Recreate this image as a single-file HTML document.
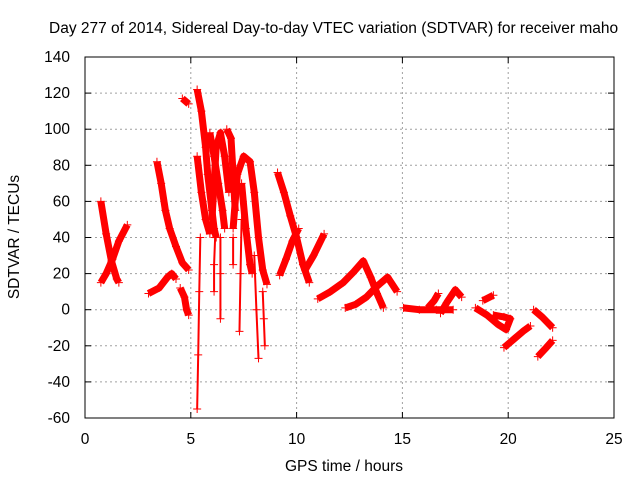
<!DOCTYPE html>
<html><head><meta charset="utf-8">
<style>
body{margin:0;background:#fff;}
svg{display:block;font-family:"Liberation Sans",sans-serif;}
</style></head>
<body>
<svg id="chart" width="640" height="480" xmlns="http://www.w3.org/2000/svg">
<rect width="640" height="480" fill="#fff"/>
<text x="49" y="33" font-size="15.5">Day 277 of 2014, Sidereal Day-to-day VTEC variation (SDTVAR) for receiver maho</text>
<text transform="translate(19,237) rotate(-90)" text-anchor="middle" font-size="15.5">SDTVAR / TECUs</text>
<text x="344" y="471" text-anchor="middle" font-size="15.5">GPS time / hours</text>
<g id="grid"></g>
<g id="marks"></g>
<g id="axes"></g>
</svg>
<script>
const xTicks = [0,5,10,15,20,25];
const yTicks = [140,120,100,80,60,40,20,0,-20,-40,-60];
const track1a = [[0.75,60],[1.0,42],[1.25,27],[1.5,17],[1.6,15]];
const track1b = [[0.75,15],[1.0,20],[1.3,28],[1.6,38],[2.0,47]];
const track2 = [[3.4,82],[3.6,70],[3.8,55],[4.0,45],[4.3,35],[4.6,26],[4.9,22]];
const track3 = [[3.0,9],[3.5,12],[3.9,18],[4.1,20],[4.3,17]];
const track4 = [[4.5,12],[4.7,7],[4.8,0],[4.9,-3]];
const track5 = [[4.6,117],[4.9,114]];
const track6a = [[5.3,122],[5.5,110],[5.7,90],[5.8,75],[6.0,55],[6.1,45],[6.2,40]];
const track6b = [[5.3,85],[5.5,65],[5.7,50],[5.9,42]];
const track6c = [[5.9,98],[6.1,85],[6.3,70],[6.5,55],[6.6,45]];
const track6d = [[6.0,50],[6.1,70],[6.2,90],[6.4,98],[6.6,85],[6.8,65]];
const track6e = [[6.7,100],[6.9,95],[7.0,75],[7.1,55]];
const track6f = [[7.0,45],[7.2,75],[7.5,85],[7.8,82],[8.0,65],[8.2,40],[8.4,22],[8.6,14]];
const track6g = [[7.4,70],[7.6,45],[7.8,25],[7.9,20]];
const track7a = [[9.1,76],[9.4,65],[9.7,52],[10.0,40],[10.3,25],[10.6,15]];
const track7b = [[9.2,19],[9.5,28],[9.8,38],[10.1,45]];
const track8 = [[10.4,22],[10.8,30],[11.3,42]];
const track9a = [[11.0,6],[11.6,10],[12.2,15],[12.7,21],[13.15,27],[13.5,18],[13.8,9],[14.1,1]];
const track9b = [[12.3,1],[12.8,3],[13.3,7],[13.8,13],[14.3,18],[14.75,10]];
const track10a = [[15.05,1],[15.8,0],[16.6,0],[17.4,0]];
const track10b = [[16.2,1],[16.5,5],[16.7,9]];
const track10c = [[16.8,-2],[17.1,4],[17.5,11],[17.8,7]];
const track11a = [[18.8,5],[19.3,8]];
const track11b = [[18.45,1],[19.0,-3],[19.5,-8],[19.9,-11],[20.1,-5],[19.8,-4],[19.3,-3]];
const track12a = [[19.8,-21],[20.3,-16],[20.7,-12],[21.05,-9]];
const track12b = [[21.2,0],[21.6,-4],[22.1,-10]];
const track12c = [[21.4,-26],[21.8,-21],[22.1,-17]];
const spikes = [
 [[5.45,40],[5.4,10],[5.35,-25],[5.3,-55]],
 [[6.15,40],[6.1,25],[6.1,10]],
 [[6.4,40],[6.4,20],[6.4,-5]],
 [[7.0,40],[7.0,25]],
 [[7.4,50],[7.35,20],[7.3,-12]],
 [[8.0,30],[8.1,0],[8.2,-27]],
 [[8.4,10],[8.45,-5],[8.5,-20]]
];
const thick = [track1a,track1b,track2,track3,track4,track5,track6a,track6b,track6c,track6d,track6e,track6f,track6g,track7a,track7b,track8,track9a,track9b,track10a,track10b,track10c,track11a,track11b,track12a,track12b,track12c];

const L=85,R=614,T=57,B=418;
const xs = t => L + (t-0)/(25-0)*(R-L);
const ys = v => B - (v+60)/(200)*(B-T);
const NS="http://www.w3.org/2000/svg";
function mk(tag,attrs,parent){const e=document.createElementNS(NS,tag);for(const k in attrs)e.setAttribute(k,attrs[k]);parent.appendChild(e);return e;}
const grid=document.getElementById('grid'), axes=document.getElementById('axes'), marks=document.getElementById('marks');
xTicks.forEach(t=>{
  const x=xs(t);
  if(t>0&&t<25){const g=mk('line',{x1:x,x2:x,y1:T,y2:B,stroke:'#a0a0a0','stroke-dasharray':'2,3'},grid);
  
  }
  mk('line',{x1:x,x2:x,y1:B,y2:B-6,stroke:'#000'},axes);
  mk('line',{x1:x,x2:x,y1:T,y2:T+6,stroke:'#000'},axes);
  const lb=mk('text',{x:x,y:B+26,'text-anchor':'middle','font-size':'15.5'},axes);
  lb.textContent=t;
  
  
});
yTicks.forEach(v=>{
  const y=ys(v);
  if(v>-60&&v<140){const g=mk('line',{x1:L,x2:R,y1:y,y2:y,stroke:'#a0a0a0','stroke-dasharray':'2,3'},grid);
  
  }
  mk('line',{x1:L,x2:L+6,y1:y,y2:y,stroke:'#000'},axes);
  mk('line',{x1:R,x2:R-6,y1:y,y2:y,stroke:'#000'},axes);
  const lb=mk('text',{x:L-15,y:y+5,'text-anchor':'end','font-size':'15.5'},axes);
  lb.textContent=v;
  
  
});
const frame=mk('rect',{x:L,y:T,width:R-L,height:B-T,fill:'none',stroke:'#000'},axes);


function drawTrack(tr,w){
  const p=mk('polyline',{points:tr.map(d=>xs(d[0])+','+ys(d[1])).join(' '),fill:'none',stroke:'#f00','stroke-width':w,'stroke-linejoin':'round'},marks);
  
  
  tr.forEach(d=>{
    const x=xs(d[0]),y=ys(d[1]);
    const m=mk('path',{d:`M${x-4},${y}H${x+4}M${x},${y-4}V${y+4}`,stroke:'#f00','stroke-width':1},marks);
    
    
  });
}
thick.forEach(tr=>drawTrack(tr,7));
spikes.forEach(tr=>drawTrack(tr,2));
</script>
</body></html>
